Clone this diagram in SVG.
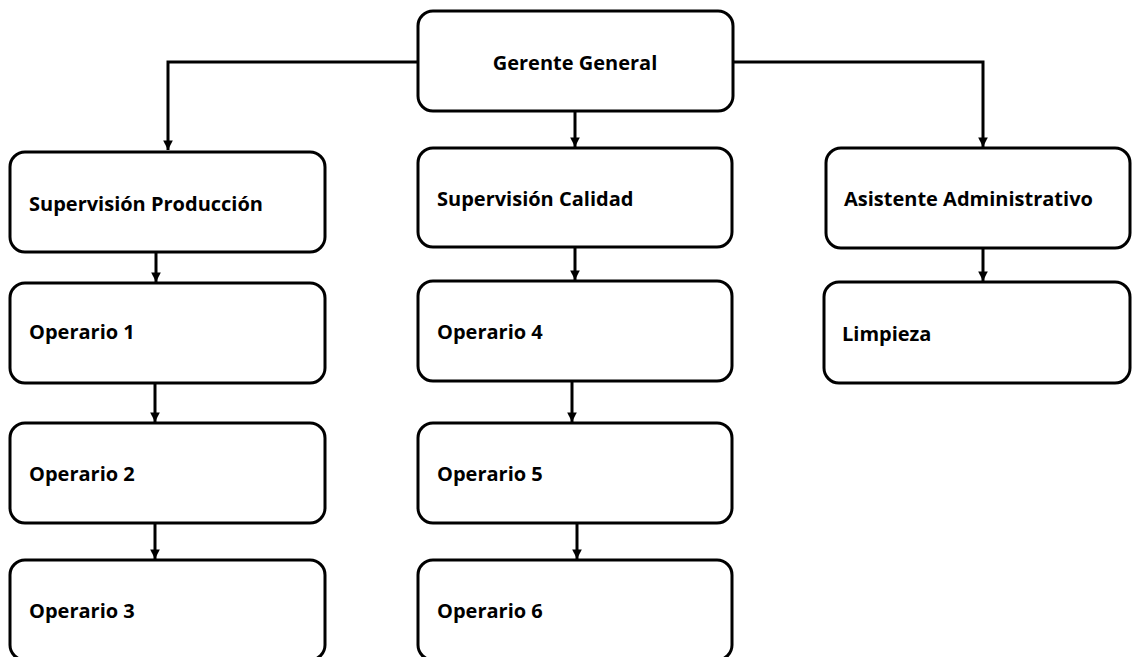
<svg xmlns="http://www.w3.org/2000/svg" width="1132" height="657" viewBox="0 0 1132 657">
<style>
.box{fill:#fff;stroke:#000;stroke-width:3}
.lbl{font-family:"Open Sans","Liberation Sans",sans-serif;font-weight:bold;font-size:20px;fill:#000}
.con{fill:none;stroke:#000;stroke-width:3}
</style>
<defs>
<marker id="ah" viewBox="0 0 10 10" refX="10" refY="5" markerWidth="3.2" markerHeight="3.2" orient="auto" markerUnits="strokeWidth">
<path d="M0,0 L10,5 L0,10 z" fill="#000"/>
</marker>
</defs>
<rect width="1132" height="657" fill="#fff"/>
<g id="connectors">
<path class="con" d="M418,62 H168 V150" marker-end="url(#ah)"/>
<path class="con" d="M733,62 H983 V147" marker-end="url(#ah)"/>
<path class="con" d="M575,111 V147" marker-end="url(#ah)"/>
<path class="con" d="M156,252 V282" marker-end="url(#ah)"/>
<path class="con" d="M155,383 V422" marker-end="url(#ah)"/>
<path class="con" d="M155,523 V559" marker-end="url(#ah)"/>
<path class="con" d="M575,247 V280" marker-end="url(#ah)"/>
<path class="con" d="M572,381 V422" marker-end="url(#ah)"/>
<path class="con" d="M577,523 V559" marker-end="url(#ah)"/>
<path class="con" d="M983,248 V281" marker-end="url(#ah)"/>
</g>
<g id="gerente"><rect class="box" x="418" y="11" width="315" height="100" rx="15"/><text class="lbl" x="575" y="70" text-anchor="middle">Gerente General</text></g>
<g id="supProd"><rect class="box" x="10" y="152" width="315" height="100" rx="15"/><text class="lbl" x="29" y="211">Supervisión Producción</text></g>
<g id="op1"><rect class="box" x="10" y="283" width="315" height="100" rx="15"/><text class="lbl" x="29" y="339">Operario 1</text></g>
<g id="op2"><rect class="box" x="10" y="423" width="315" height="100" rx="15"/><text class="lbl" x="29" y="481">Operario 2</text></g>
<g id="op3"><rect class="box" x="10" y="560" width="315" height="100" rx="15"/><text class="lbl" x="29" y="618">Operario 3</text></g>
<g id="supCal"><rect class="box" x="418" y="148" width="314" height="99" rx="15"/><text class="lbl" x="437" y="206">Supervisión Calidad</text></g>
<g id="op4"><rect class="box" x="418" y="281" width="314" height="100" rx="15"/><text class="lbl" x="437" y="339">Operario 4</text></g>
<g id="op5"><rect class="box" x="418" y="423" width="314" height="100" rx="15"/><text class="lbl" x="437" y="481">Operario 5</text></g>
<g id="op6"><rect class="box" x="418" y="560" width="314" height="100" rx="15"/><text class="lbl" x="437" y="618">Operario 6</text></g>
<g id="asist"><rect class="box" x="826" y="148" width="304" height="100" rx="15"/><text class="lbl" x="844" y="206">Asistente Administrativo</text></g>
<g id="limp"><rect class="box" x="824" y="282" width="306" height="101" rx="15"/><text class="lbl" x="842" y="341">Limpieza</text></g>
</svg>
